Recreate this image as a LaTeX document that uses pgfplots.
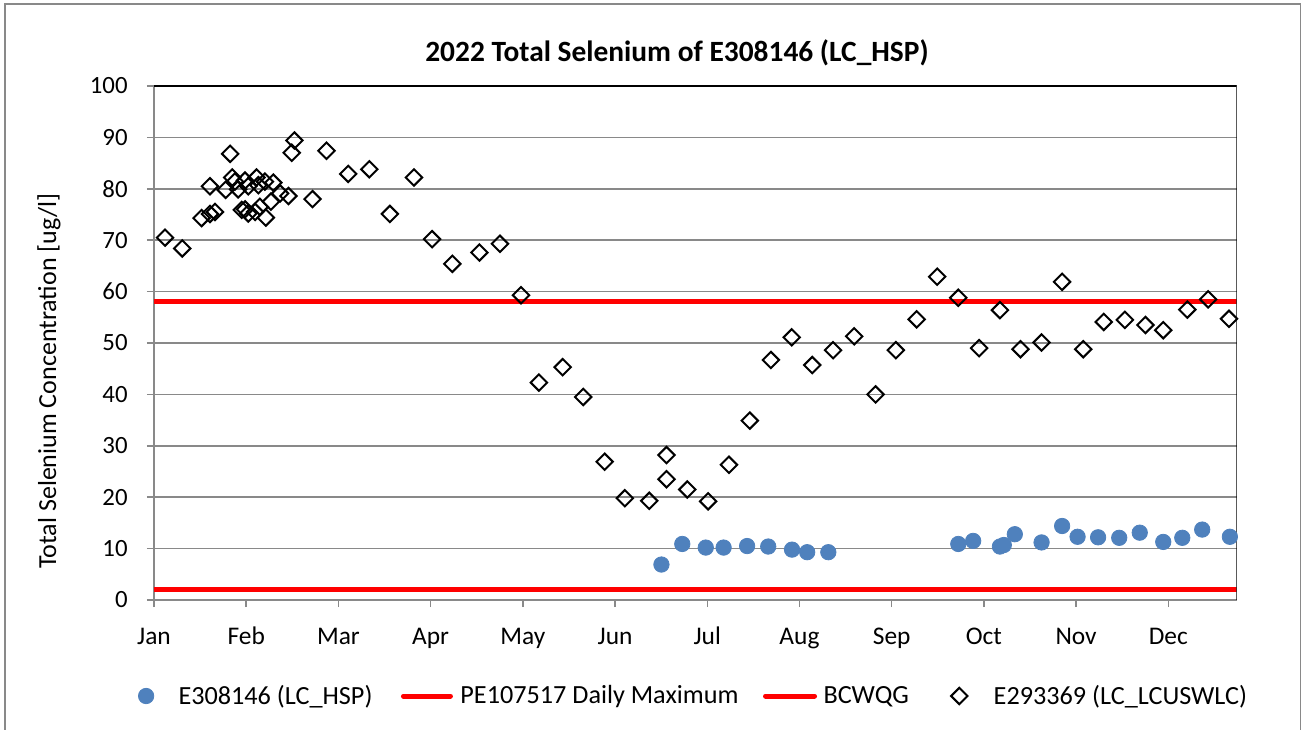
\documentclass[border=0pt]{standalone}
\usepackage{fontspec}
\setmainfont{Carlito}
\usepackage{pgfplots}
\pgfplotsset{compat=1.18}
\definecolor{exblue}{RGB}{79,129,189}
\definecolor{gridc}{RGB}{137,137,137}
\begin{document}
\begin{tikzpicture}
\useasboundingbox (0,0) rectangle (651pt,364.5pt);
\draw[gridc, line width=0.75pt] (2.5pt,-2pt) -- (2.5pt,362.5pt) -- (650.25pt,362.5pt) -- (650.25pt,-2pt);
\begin{axis}[
  at={(77pt,64.5pt)}, anchor=south west,
  scale only axis, width=541.35pt, height=257pt,
  xmin=0, xmax=364, ymin=0, ymax=100,
  axis x line*=bottom, axis y line*=left,
  axis line style={gridc, line width=0.75pt},
  xtick={0,31,62,93,124,155,186,217,248,279,310,341},
  xticklabels={Jan,Feb,Mar,Apr,May,Jun,Jul,Aug,Sep,Oct,Nov,Dec},
  ytick={0,10,...,100},
  tick align=outside, major tick length=3.5pt,
  tick style={gridc, line width=0.75pt},
  ymajorgrids, grid style={gridc, line width=0.75pt},
  font=\fontsize{12.4}{14}\selectfont,
  /pgf/number format/assume math mode=true,
  xticklabel style={anchor=base, inner sep=0pt, yshift=-18.8pt, font=\fontsize{12.7}{14}\selectfont},
  yticklabel style={anchor=east, inner sep=0pt, xshift=-9.5pt},
  every axis title/.style={at={(axis description cs:0.483,1.0486)}, anchor=base, font=\fontsize{14.7}{17}\selectfont\bfseries},
  title={2022 Total Selenium of E308146 (LC\_HSP)},
  every axis y label/.style={at={(axis description cs:-0.0905,0.426)}, rotate=90, anchor=base, font=\fontsize{13}{15}\selectfont},
  ylabel={Total Selenium Concentration [ug/l]},
  legend columns=4,
  legend cell align=left,
  legend style={at={(axis description cs:-0.01505,-0.1868)}, anchor=west, draw=none, fill=none,
    inner sep=0pt, outer sep=0pt, font=\fontsize{13.1}{15}\selectfont,
    nodes={inner sep=0pt},
    /tikz/column 2/.style={column sep=13pt},
    /tikz/column 4/.style={column sep=11pt},
    /tikz/column 6/.style={column sep=20pt}},
]
\addplot[exblue, only marks, mark=*, mark size=3.85pt, mark options={draw=exblue, fill=exblue},
  legend image code/.code={\draw[only marks] plot coordinates {(4pt,0pt)}; \path (0pt,0pt) (20pt,0pt);}]
table {
170.6 6.9
177.6 10.9
185.5 10.2
191.5 10.2
199.4 10.5
206.5 10.4
214.5 9.8
219.6 9.3
226.7 9.3
270.4 10.9
275.4 11.5
284.4 10.4
285.7 10.7
289.4 12.8
298.4 11.2
305.3 14.4
310.5 12.3
317.4 12.2
324.5 12.1
331.4 13.1
339.3 11.3
345.7 12.1
352.4 13.7
361.7 12.3
};
\addlegendentry{E308146 (LC\_HSP)}
\addplot[red, line width=2.5pt,
  legend image code/.code={\draw[line cap=round] (1.25pt,0pt) -- (24.75pt,0pt); \path (0pt,0pt) (28.5pt,0pt);}]
coordinates {(0,58) (364,58)};
\addlegendentry{PE107517 Daily Maximum}
\addplot[red, line width=2.5pt,
  legend image code/.code={\draw[line cap=round] (1.25pt,0pt) -- (25.75pt,0pt); \path (0pt,0pt) (29pt,0pt);}]
coordinates {(0,2) (364,2)};
\addlegendentry{BCWQG}
\addplot[black, only marks, mark=square, mark size=2.9pt, mark options={draw=black, fill=white, line width=1pt, rotate=45},
  legend image code/.code={\draw[only marks] plot coordinates {(5pt,0pt)}; \path (0pt,0pt) (22pt,0pt);}]
table {
3.7 70.5
9.5 68.4
16.0 74.3
18.8 80.5
18.8 75.1
20.5 75.5
24.1 79.8
25.6 86.8
26.3 82.2
27.2 81.4
28.3 79.9
29.5 75.9
30.6 81.6
30.6 76.0
31.7 80.5
31.7 75.2
34.0 75.5
34.5 82.2
35.1 80.7
35.6 76.5
37.3 81.4
37.6 74.4
39.3 77.5
40.1 81.2
42.4 79.1
45.2 78.6
46.3 87.0
47.2 89.4
53.3 78.0
58.0 87.4
65.3 82.9
72.4 83.8
79.3 75.1
87.4 82.2
93.5 70.2
100.3 65.4
109.4 67.6
116.3 69.3
123.4 59.3
129.4 42.3
137.4 45.3
144.3 39.5
151.5 26.9
158.3 19.8
166.5 19.3
172.3 28.2
172.3 23.5
179.3 21.5
186.3 19.2
193.3 26.3
200.3 34.9
207.4 46.7
214.4 51.1
221.3 45.7
228.3 48.6
235.4 51.3
242.6 40.0
249.4 48.6
256.4 54.6
263.3 62.9
270.4 58.8
277.4 49.0
284.4 56.4
291.3 48.8
298.4 50.1
305.3 61.9
312.4 48.8
319.3 54.1
326.4 54.5
333.3 53.5
339.3 52.5
347.4 56.5
354.4 58.5
361.4 54.7
};
\addlegendentry{E293369 (LC\_LCUSWLC)}
\draw[black, line width=1pt] (rel axis cs:0,1) -- (rel axis cs:1,1) -- (rel axis cs:1,0);
\end{axis}
\end{tikzpicture}
\end{document}
